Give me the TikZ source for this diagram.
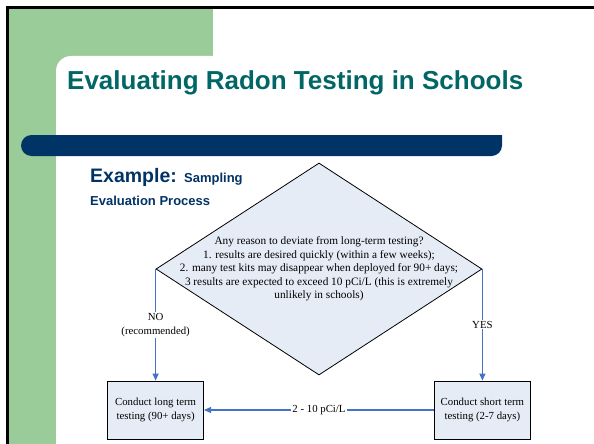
\documentclass[tikz,border=0pt]{standalone}
\usepackage{fontspec}
\setmainfont{Liberation Serif}
\newfontfamily\slidefont{Liberation Sans}
\usepackage{xcolor}
\usepackage{tikz}
\usetikzlibrary{shapes, arrows.meta, positioning}

\definecolor{slidegreen}{RGB}{153,204,153}
\definecolor{slidenavy}{RGB}{0,51,102}
\definecolor{slideteal}{RGB}{0,102,102}
\definecolor{boxfill}{RGB}{230,236,246}
\definecolor{linkblue}{RGB}{68,114,196}

\begin{document}
\begin{tikzpicture}[x=1pt, y=-1pt,
    box/.style={draw, line width=0.8pt, fill=boxfill, rectangle, minimum width=96pt, minimum height=58pt, align=center, font=\fontsize{10.8}{14}\selectfont},
    link/.style={draw=linkblue, line width=1.1pt, -{Triangle[width=6pt, length=7pt]}},
    lab/.style={fill=white, inner sep=1pt, align=center, font=\fontsize{10.8}{14}\selectfont}]
    \useasboundingbox (0,0) rectangle (594,444);
    % Slide background
    \fill[black] (6,6) rectangle (594,444);
    \fill[white] (9,9) rectangle (594,444);
    \fill[slidegreen] (9,9) rectangle (213,444);
    \fill[white, rounded corners=15pt] (56,444) -- (56,56) -- (594,56) [sharp corners] -- (594,444) -- cycle;
    \fill[slidenavy, rounded corners=10.5pt] (502,135) -- (21,135) -- (21,156) -- (502,156) [sharp corners] -- cycle;
    
    % Headings
    \node [anchor=base west, inner sep=0, text=slideteal, font=\slidefont\bfseries\fontsize{26}{30}\selectfont] (title) at (67,89) {Evaluating Radon Testing in Schools};
    \node [anchor=base west, inner sep=0, text=slidenavy, font=\slidefont\bfseries\fontsize{19.5}{22}\selectfont] (example) at (90,182) {Example: {\fontsize{13}{15}\selectfont Sampling}};
    \node [anchor=base west, inner sep=0, text=slidenavy, font=\slidefont\bfseries\fontsize{13}{15}\selectfont] (process) at (90,205) {Evaluation Process};
    
    % Decision
    \node [draw, line width=0.8pt, fill=boxfill, diamond, inner sep=0, minimum width=326pt, minimum height=212pt] (decide) at (319,269) {};
    \node [align=center, inner sep=0, font=\fontsize{11.3}{13.5}\selectfont] (question) at (decide.center) {Any reason to deviate from long-term testing?\\1. results are desired quickly (within a few weeks);\\2. many test kits may disappear when deployed for 90+ days;\\3 results are expected to exceed 10 pCi/L (this is extremely\\unlikely in schools)};
    
    % Outcomes
    \node [box] (longterm) at (decide.west |- 0,410) {Conduct long term\\testing (90+ days)};
    \node [box] (shortterm) at (decide.east |- 0,410) {Conduct short term\\testing (2-7 days)};
    
    % Connections
    \draw[link] (decide.west) -- node[lab] {NO\\(recommended)} (longterm);
    \draw[link] (decide.east) -- node[lab] {YES} (shortterm);
    \draw[link] (shortterm) -- node[lab] {2 - 10 pCi/L} (longterm);
\end{tikzpicture}
\end{document}
